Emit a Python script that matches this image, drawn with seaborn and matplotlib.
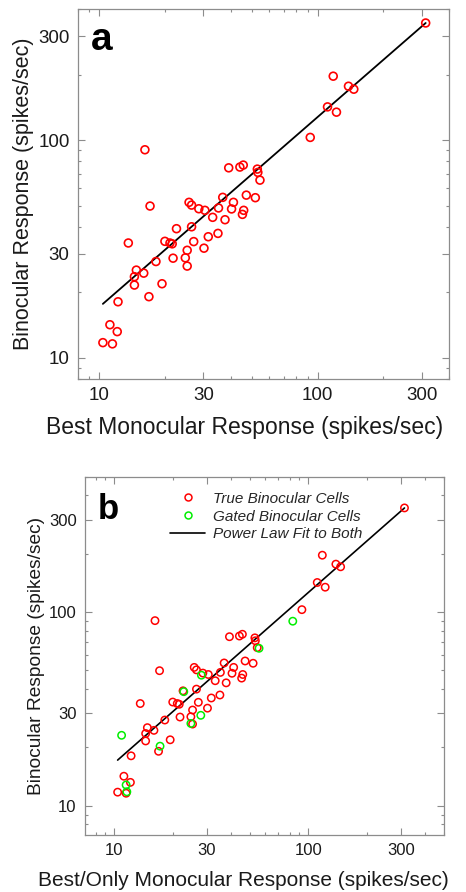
import numpy as np
import pandas as pd
import matplotlib
matplotlib.use("Agg")
import matplotlib.pyplot as plt
from matplotlib.ticker import FixedLocator, FixedFormatter, LogLocator, NullFormatter
from matplotlib.lines import Line2D
import seaborn as sns

# ---- data ----
true_x = [16.2, 17.1, 25.8, 26.5, 22.6, 26.5, 13.6, 20.0, 21.1, 21.6, 27.1, 25.3, 24.8,
          21.8, 25.3, 18.2, 14.8, 14.5, 16.0, 14.5, 19.4, 16.9, 12.2, 11.2, 12.1, 39.2,
          44.1, 45.7, 53.0, 53.3, 54.5, 36.8, 41.2, 47.2, 51.9, 35.2, 40.4, 45.9, 45.3,
          33.1, 37.7, 28.6, 30.5, 31.6, 35.0, 30.2, 312.8, 118.0, 138.6, 146.6, 111.1,
          122.1, 92.6, 10.4, 11.5]
true_y = [90.3, 49.8, 51.8, 50.3, 39.2, 40.0, 33.7, 34.3, 33.7, 33.4, 34.2, 31.2, 28.8,
          28.7, 26.4, 27.7, 25.3, 23.6, 24.5, 21.6, 21.9, 19.1, 18.1, 14.2, 13.2, 74.6,
          75.2, 76.8, 73.6, 71.1, 65.5, 54.6, 51.8, 55.9, 54.4, 48.8, 48.3, 47.6, 45.6,
          44.2, 43.1, 48.4, 47.6, 36.0, 37.3, 31.9, 345.0, 196.6, 176.8, 171.3, 142.1,
          134.4, 102.9, 11.75, 11.6]
gated_x = [10.9, 11.5, 11.6, 17.2, 22.8, 24.8, 27.9, 28.1, 83.1, 55.7]
gated_y = [23.1, 12.8, 11.8, 20.3, 38.8, 26.6, 29.3, 47.2, 89.7, 65.0]

# power-law fits  y = A * x^B  (log10 A, B)
fit_a = (0.3607, 0.8725)
fit_b = (0.3399, 0.8807)

tick_vals = [10, 30, 100, 300]
tick_labels = ["10", "30", "100", "300"]

sns.set_theme(style="white")
plt.rcParams["font.family"] = ["Liberation Sans", "DejaVu Sans"]

frame = "#8c8c8c"
fig = plt.figure(figsize=(4.66, 8.92), dpi=100)
ax_a = fig.add_axes([78/466, 1-379/892, 371/466, 370/892])
ax_b = fig.add_axes([85/466, 1-835/892, 359/466, 358.3/892])

df_true = pd.DataFrame({"x": true_x, "y": true_y})
df_gate = pd.DataFrame({"x": gated_x, "y": gated_y})


def fit_line(xs, p):
    xx = np.array([min(xs), max(xs)])
    return xx, 10 ** p[0] * xx ** p[1]


def style(ax, lims, fs_tick, fs_xlab, fs_ylab, xlab_pos, xlabel, ylabel,
          letter, lx, ly, fs_letter):
    ax.set_xscale("log")
    ax.set_yscale("log")
    ax.set_xlim(*lims)
    ax.set_ylim(*lims)
    for axis in (ax.xaxis, ax.yaxis):
        axis.set_major_locator(FixedLocator(tick_vals))
        axis.set_major_formatter(FixedFormatter(tick_labels))
        axis.set_minor_locator(LogLocator(base=10, subs=np.arange(2, 10)))
        axis.set_minor_formatter(NullFormatter())
    ax.tick_params(which="both", direction="in", top=True, right=True,
                   bottom=True, left=True, color=frame, labelsize=fs_tick,
                   labelcolor="#1a1a1a", width=0.8)
    ax.tick_params(which="major", length=5, pad=6)
    ax.tick_params(which="minor", length=2.5)
    for s in ax.spines.values():
        s.set_color(frame)
        s.set_linewidth(0.9)
        s.set_visible(True)
    ax.set_xlabel(xlabel, fontsize=fs_xlab, color="#1a1a1a")
    ax.xaxis.set_label_coords(*xlab_pos)
    ax.set_ylabel(ylabel, fontsize=fs_ylab, color="#1a1a1a", labelpad=3)
    ax.text(lx, ly, letter, transform=ax.transAxes, fontsize=fs_letter,
            fontweight="bold", ha="left", va="baseline", color="black")


# panel a
sns.scatterplot(data=df_true, x="x", y="y", ax=ax_a, s=32, facecolor="none",
                edgecolor="#ff0000", linewidth=1.2, marker="o", zorder=3)
fx, fy = fit_line(true_x, fit_a)
sns.lineplot(x=fx, y=fy, ax=ax_a, color="black", linewidth=1.3, zorder=2)
style(ax_a, (8, 400), 13.5, 16.5, 15.5, (0.45, -0.10),
      "Best Monocular Response (spikes/sec)",
      "Binocular Response (spikes/sec)", "a", 0.035, 0.889, 28)

# panel b
sns.scatterplot(data=df_true, x="x", y="y", ax=ax_b, s=28, facecolor="none",
                edgecolor="#ff0000", linewidth=1.1, marker="o", zorder=3)
sns.scatterplot(data=df_gate, x="x", y="y", ax=ax_b, s=28, facecolor="none",
                edgecolor="#00ee00", linewidth=1.1, marker="o", zorder=4)
all_x = list(true_x) + list(gated_x)
fx, fy = fit_line(all_x, fit_b)
sns.lineplot(x=fx, y=fy, ax=ax_b, color="black", linewidth=1.2, zorder=2)
style(ax_b, (7.06, 500), 12, 15, 13.8, (0.44, -0.10),
      "Best/Only Monocular Response (spikes/sec)",
      "Binocular Response (spikes/sec)", "b", 0.036, 0.883, 25)

handles = [
    Line2D([], [], marker="o", linestyle="none", markerfacecolor="none",
           markeredgecolor="#ff0000", markersize=5, markeredgewidth=1.1),
    Line2D([], [], marker="o", linestyle="none", markerfacecolor="none",
           markeredgecolor="#00ee00", markersize=5, markeredgewidth=1.1),
    Line2D([], [], color="black", linewidth=1.2),
]
labels = ["True Binocular Cells", "Gated Binocular Cells", "Power Law Fit to Both"]
ax_b.legend(handles, labels, loc="upper left", bbox_to_anchor=(0.22, 0.975),
            frameon=False, prop={"style": "italic", "size": 11},
            handlelength=2.3, handletextpad=0.5, labelspacing=0.25,
            borderaxespad=0)

fig.savefig("out.png", dpi=100)
